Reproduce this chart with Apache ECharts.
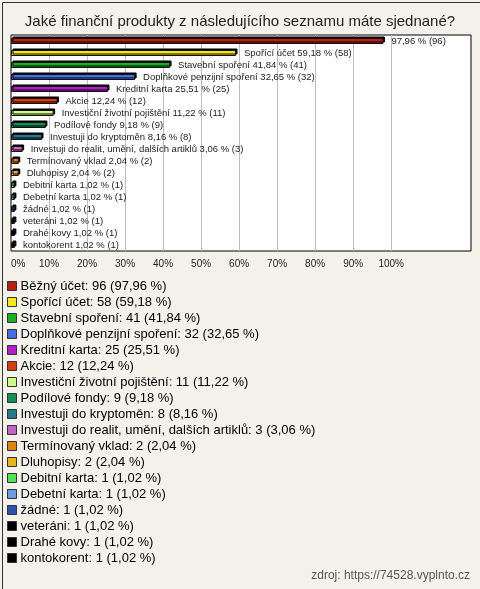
<!DOCTYPE html>
<html>
<head>
<meta charset="utf-8">
<script src="https://cdn.jsdelivr.net/npm/echarts@6/dist/echarts.min.js"></script>
<style>
html,body{margin:0;padding:0;background:#f3f2ea;}
#chart{width:480px;height:589px;}
</style>
</head>
<body>
<div id="chart"></div>
<script>
const titleText = 'Jaké finanční produkty z následujícího seznamu máte sjednané?';
const sourceText = 'zdroj: https://74528.vyplnto.cz';
const categories = ['Běžný účet','Spořící účet','Stavební spoření','Doplňkové penzijní spoření','Kreditní karta','Akcie','Investiční životní pojištění','Podílové fondy','Investuji do kryptoměn','Investuji do realit, umění, dalších artiklů','Termínovaný vklad','Dluhopisy','Debitní karta','Debetní karta','žádné','veteráni','Drahé kovy','kontokorent'];
const counts = [96,58,41,32,25,12,11,9,8,3,2,2,1,1,1,1,1,1];
const percents = [97.96,59.18,41.84,32.65,25.51,12.24,11.22,9.18,8.16,3.06,2.04,2.04,1.02,1.02,1.02,1.02,1.02,1.02];
const colors = ['#be1e0e','#fde910','#14b41e','#4070e8','#b61ad0','#dc3c0c','#ccff80','#0f9255','#1e7a8c','#c464c8','#e8800c','#ecb414','#4ce84c','#6c9ce8','#2a52b4','#000000','#000000','#000000'];
const gridTicks = [10,20,30,40,50,60,70,80,90,100];
const axisMax = 121;

function fmtPct(p){ return p.toFixed(2).replace('.', ','); }

const series = categories.map((name, i) => {
  const data = categories.map((c, j) => j === i ? percents[i] : '-');
  const s = {
    name: name,
    type: 'bar',
    stack: 'all',
    barWidth: 6,
    data: data,
    itemStyle: {
      color: colors[i],
      borderColor: '#111',
      borderWidth: 1,
      shadowColor: '#000',
      shadowBlur: 0,
      shadowOffsetX: 1.5,
      shadowOffsetY: -1.5
    },
    label: {
      show: true,
      position: 'right',
      distance: 8,
      fontFamily: 'Liberation Sans, Arial, sans-serif',
      fontSize: 9.5,
      color: '#222',
      formatter: () => (i === 0 ? '' : name + ' ') + fmtPct(percents[i]) + ' % (' + counts[i] + ')'
    },
    emphasis: {disabled: true}
  };
  if (i === 0) {
    s.markLine = {
      silent: true,
      z: 1,
      symbol: 'none',
      label: {show: false},
      lineStyle: {color: '#bdbdbd', type: 'solid', width: 1},
      data: gridTicks.map(v => ({xAxis: v}))
    };
  }
  return s;
});

const chart = echarts.init(document.getElementById('chart'), null, {renderer: 'canvas'});
chart.setOption({
  backgroundColor: '#f3f2ea',
  animation: false,
  title: {
    text: titleText,
    left: 'center',
    top: 9,
    textStyle: {fontFamily: 'Liberation Sans, Arial, sans-serif', fontSize: 15, fontWeight: 'normal', color: '#222'}
  },
  grid: {
    left: 11, right: 9, top: 35, bottom: 338,
    show: true, backgroundColor: '#ffffff', borderColor: '#000', borderWidth: 1,
    containLabel: false
  },
  xAxis: {
    type: 'value', min: 0, max: axisMax, interval: 10,
    axisLine: {show: false}, axisTick: {show: false}, splitLine: {show: false},
    axisLabel: {
      margin: 8,
      fontFamily: 'Liberation Sans, Arial, sans-serif', fontSize: 10, color: '#222',
      formatter: v => v <= 100 ? v + '%' : '',
      alignMinLabel: 'left'
    }
  },
  yAxis: {
    type: 'category', data: categories, inverse: true,
    axisLine: {show: false}, axisTick: {show: false}, axisLabel: {show: false}, splitLine: {show: false}
  },
  legend: {
    orient: 'vertical',
    left: 7, top: 278,
    padding: 0,
    itemGap: 0,
    itemWidth: 9, itemHeight: 9,
    icon: 'rect',
    selectedMode: false,
    itemStyle: {borderColor: '#333', borderWidth: 1, shadowBlur: 0, shadowOffsetX: 0, shadowOffsetY: 0, shadowColor: 'transparent'},
    textStyle: {fontFamily: 'Liberation Sans, Arial, sans-serif', fontSize: 13, color: '#000', lineHeight: 16, padding: [0,0,0,-1]},
    formatter: name => {
      const i = categories.indexOf(name);
      return name + ': ' + counts[i] + ' (' + fmtPct(percents[i]) + ' %)';
    },
    data: categories
  },
  graphic: [
    {type: 'text', right: 10, top: 570, style: {text: sourceText, fontFamily: 'Liberation Sans, Arial, sans-serif', fontSize: 12, fill: '#555'}},
    {type: 'rect', left: 0, top: 0, shape: {x: 0.5, y: 0.5, width: 479, height: 588}, style: {fill: 'none', stroke: '#333', lineWidth: 1}, silent: true}
  ],
  series: series
});
</script>
</body>
</html>
